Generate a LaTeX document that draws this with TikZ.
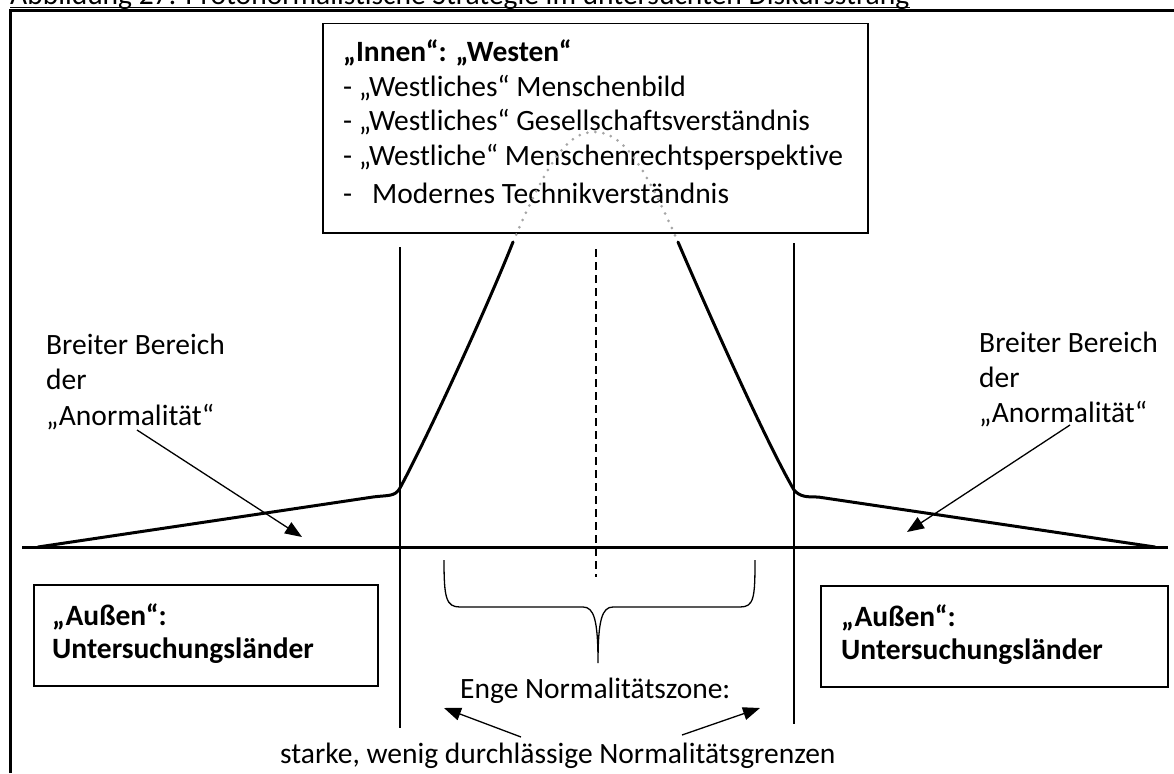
\documentclass[tikz,border=0pt]{standalone}
\usepackage{fontspec}
\setmainfont{Carlito}[Ligatures={NoCommon}]
\usetikzlibrary{arrows.meta}
\tikzset{
  lbl/.style={font=\fontsize{29.5}{35}\selectfont, inner sep=0pt, anchor=base west},
  blbl/.style={lbl, font=\fontsize{29.5}{35}\selectfont\bfseries},
  boxr/.style={draw, line width=1.5pt, inner sep=0pt, anchor=north west},
  curve/.style={line width=3pt, line cap=round, line join=round},
  thinline/.style={line width=1.5pt},
  arr/.style={line width=1.3pt, -{Triangle[length=17pt,width=13pt]}},
  dots/.style={draw=black!35, line width=3pt, line cap=round, dash pattern=on 0pt off 8pt},
}
\begin{document}
\begin{tikzpicture}[x=1pt,y=-1pt]
\useasboundingbox (0,0) rectangle (1174,773);
\clip (0,0) rectangle (1174,773);
% title (cut off at top in the original)
\node[lbl] (title) at (10,5) {Abbildung 27: Protonormalistische Strategie im untersuchten Diskursstrang};
\draw[line width=1.2pt] (title.base west) ++(0,2.5) -- (title.base east |- 0,7.5);
% frame
\draw[line width=2.6pt] (10.5,773) -- (10.5,10.5) -- (1174,10.5);
% Innen box
\node[boxr, minimum width=545pt, minimum height=209pt] (innen) at (322,23) {};
\node[blbl] (t1) at (343,62) {„Innen“: „Westen“};
\node[lbl] (t2) at (343,97) {- „Westliches“ Menschenbild};
\node[lbl] (t3) at (343,131) {- „Westliches“ Gesellschaftsverständnis};
\node[lbl] (t4) at (343,165) {- „Westliche“ Menschenrechtsperspektive};
\node[lbl] (t5a) at (343,203) {-};
\node[lbl] (t5) at (372,203) {Modernes Technikverständnis};
% dotted top of curve
\draw[dots] (513,242) .. controls (548,160) and (568,132) .. (594,132)
                      .. controls (622,132) and (643,162) .. (678,242);
% baseline
\draw[line width=3pt] (22,547) -- (1168,547);
% verticals
\draw[thinline] (400,247) -- (400,728);
\draw[thinline] (794,243) -- (794,724);
\draw[thinline, dash pattern=on 8pt off 5pt] (596,249) -- (596,577);
% solid curve
\draw[curve] (38,547) -- (373,497) .. controls (388,495) and (395,497) .. (400,488)
   .. controls (430,432) and (488,305) .. (513,242);
\draw[curve] (678,242) .. controls (705,305) and (765,440) .. (794,490)
   .. controls (800,497) and (807,497) .. (818,497) -- (1155,547);
% side labels
\node[lbl] (l1) at (46,354) {Breiter Bereich};
\node[lbl] (l2) at (46,389) {der};
\node[lbl] (l3) at (46,425) {„Anormalität“};
\node[lbl] (r1) at (979,352) {Breiter Bereich};
\node[lbl] (r2) at (979,387) {der};
\node[lbl] (r3) at (979,422) {„Anormalität“};
\coordinate (la) at (137,430);
\coordinate (lah) at (302,537);
\coordinate (ra) at (1070,425);
\coordinate (rah) at (907,532);
\draw[arr] (la) -- (lah);
\draw[arr] (ra) -- (rah);
% Aussen boxes
\node[boxr, minimum width=344pt, minimum height=101pt] (aussenl) at (33,584) {};
\node[blbl] (al1) at (52,625) {„Außen“:};
\node[blbl] (al2) at (52,658) {Untersuchungsländer};
\node[boxr, minimum width=347pt, minimum height=101pt] (aussenr) at (820,585) {};
\node[blbl] (ar1) at (841,626) {„Außen“:};
\node[blbl] (ar2) at (841,659) {Untersuchungsländer};
% brace
\draw[line width=1.3pt] (444,560) .. controls (444,598) and (446,607) .. (460,607) -- (583,607)
   .. controls (594,607) and (598,620) .. (598,663)
   .. controls (598,620) and (602,607) .. (613,607) -- (740,607)
   .. controls (754,607) and (755,598) .. (755,560);
% bottom texts
\node[lbl] (enge) at (460,698) {Enge Normalitätszone:};
\node[lbl] (grenzen) at (280,763) {starke, wenig durchlässige Normalitätsgrenzen};
\coordinate (ga) at (521,737);
\coordinate (gah) at (444,708);
\coordinate (gb) at (682,735);
\coordinate (gbh) at (760,708);
\draw[arr] (ga) -- (gah);
\draw[arr] (gb) -- (gbh);
\end{tikzpicture}
\end{document}
